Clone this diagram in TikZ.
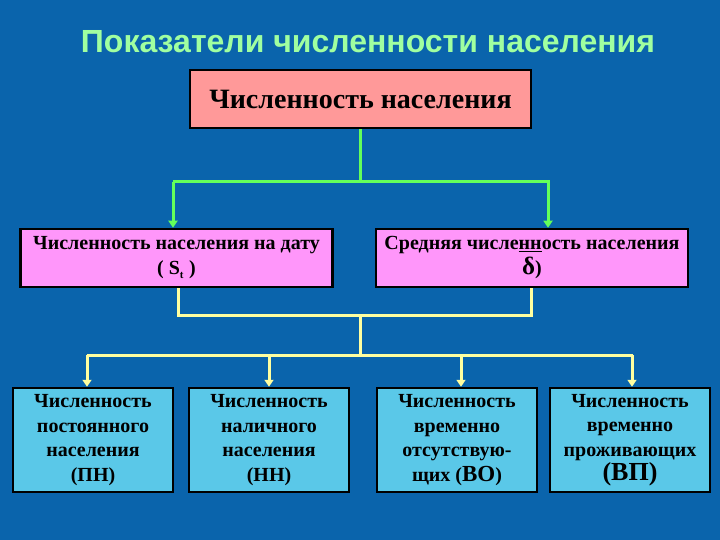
\documentclass[tikz,border=0pt]{standalone}
\usepackage{fontspec}
\setmainfont{Liberation Serif}
\newfontfamily\titlefont{Liberation Sans}
\usetikzlibrary{arrows.meta}

\definecolor{bgblue}{RGB}{10,100,172}
\definecolor{titlegreen}{RGB}{160,255,160}
\definecolor{salmon}{RGB}{255,153,153}
\definecolor{violet}{RGB}{255,150,250}
\definecolor{skycyan}{RGB}{90,200,232}
\definecolor{linegreen}{RGB}{100,255,90}
\definecolor{lineyellow}{RGB}{255,255,160}

\tikzset{
  box/.style={draw=black, line width=2.5pt, rectangle, align=center, inner sep=0pt, font=\bfseries},
  topbox/.style={box, fill=salmon, minimum width=341pt, minimum height=58pt, font=\bfseries\fontsize{28}{32}\selectfont},
  midbox/.style={box, fill=violet, minimum width=312pt, minimum height=58pt, font=\bfseries\fontsize{20}{25}\selectfont},
  lowbox/.style={box, fill=skycyan, minimum width=160pt, minimum height=104pt, font=\bfseries\fontsize{20}{24.5}\selectfont},
  greenline/.style={draw=linegreen, line width=3pt},
  yellowline/.style={draw=lineyellow, line width=3pt},
  tip/.style={-{Triangle[width=9pt,length=7pt]}}
}

\begin{document}
\begin{tikzpicture}[x=1pt,y=-1pt]
    \fill[bgblue] (0,0) rectangle (720,540);
    \useasboundingbox (0,0) rectangle (720,540);
    % title
    \node[anchor=base, text=titlegreen, font=\titlefont\bfseries\fontsize{32}{36}\selectfont] (title) at (368,53) {Показатели численности населения};
    % boxes
    \node[topbox] (total) at (360.5,99) {Численность населения};
    \node[midbox] (ondate) at (176.5,258) {Численность населения на дату\\( S\textsubscript{\fontsize{11}{11}\selectfont t} )};
    \node[midbox] (mean) at (532,258) {Средняя числе\underline{нн}ость населения\\{\fontsize{25}{25}\selectfont δ})};
    \node[lowbox] (low1) at (93,440) {Численность\\постоянного\\населения\\(ПН)};
    \node[lowbox] (low2) at (269,440) {Численность\\наличного\\населения\\(НН)};
    \node[lowbox] (low3) at (457,440) {Численность\\временно\\отсутствую-\\щих ({\fontsize{23}{24}\selectfont ВО})};
    \node[lowbox] (low4) at (630,440) {Численность\\временно\\проживающих\\{\fontsize{26}{24}\selectfont (ВП)}};
    % green connectors
    \coordinate (gsplit) at (360,182);
    \coordinate (gleft) at (173,182);
    \coordinate (gright) at (548,182);
    \draw[greenline] (gsplit |- total.south) -- (gsplit);
    \draw[greenline, tip] (gright -| gleft) -- (gright) -- (gright |- mean.north);
    \draw[greenline, tip] (gleft) -- (gleft |- ondate.north);
    % yellow connectors
    \coordinate (yleft) at (178,315);
    \coordinate (yright) at (531,315);
    \coordinate (ymid) at (360,315);
    \coordinate (yrail) at (360,355);
    \draw[yellowline] (yleft |- ondate.south) -- (yleft) -- (yright) -- (yright |- mean.south);
    \draw[yellowline] (ymid) -- (yrail);
    \draw[yellowline] (87,355) -- (633,355);
    \foreach \ax/\target in {87/low1,269/low2,461/low3,632/low4}{
        \draw[yellowline, tip] (\ax,355) -- (\ax,0 |- \target.north); % arrow to the box
    }
\end{tikzpicture}
\end{document}
